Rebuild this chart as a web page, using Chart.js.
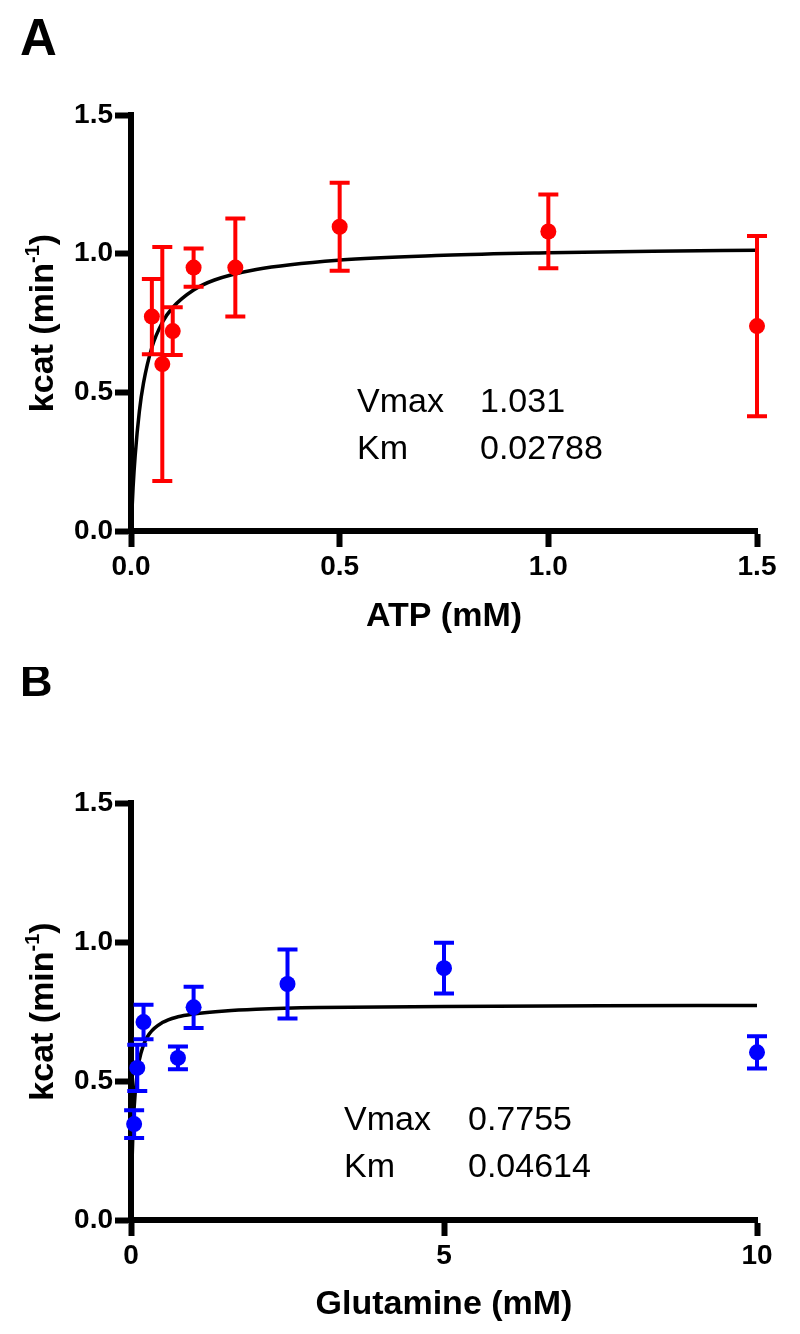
<!DOCTYPE html>
<html>
<head>
<meta charset="utf-8">
<script src="https://cdn.jsdelivr.net/npm/chart.js@4"></script>
<style>
  html, body { margin: 0; padding: 0; background: #fff; }
  canvas { display: block; }
</style>
</head>
<body>
<canvas id="chartA" width="800" height="667"></canvas>
<canvas id="chartB" width="800" height="667"></canvas>
<script>
// ============== Data ==============
// Panel A - ATP
const atpConc = [0.05, 0.075, 0.1, 0.15, 0.25, 0.5, 1.0, 1.5];
const atpKcat = [0.773, 0.602, 0.721, 0.950, 0.950, 1.097, 1.080, 0.739];
const atpSd = [0.136, 0.422, 0.086, 0.069, 0.177, 0.159, 0.133, 0.325];
const atpFitX = [0, 0.005, 0.01, 0.02, 0.03, 0.05, 0.075, 0.1, 0.15, 0.2, 0.3, 0.5, 0.75, 1.0, 1.25, 1.5];
const atpFitY = [0, 0.157, 0.272, 0.431, 0.534, 0.662, 0.752, 0.806, 0.869, 0.905, 0.943, 0.977, 0.994, 1.003, 1.009, 1.012];
const atpXTicks = [0, 0.5, 1.0, 1.5];
const atpParams = ["Vmax", "Km"];
const atpParamValues = ["1.031", "0.02788"];

// Panel B - Glutamine
const glnConc = [0.05, 0.1, 0.2, 0.75, 1.0, 2.5, 5, 10];
const glnKcat = [0.345, 0.547, 0.712, 0.583, 0.765, 0.849, 0.906, 0.603];
const glnSd = [0.050, 0.083, 0.062, 0.041, 0.074, 0.124, 0.091, 0.058];
const glnFitX = [0, 0.01, 0.02, 0.05, 0.1, 0.2, 0.3, 0.5, 0.75, 1, 1.5, 2, 3, 5, 7.5, 10];
const glnFitY = [0, 0.138, 0.235, 0.403, 0.531, 0.630, 0.672, 0.710, 0.731, 0.741, 0.752, 0.758, 0.764, 0.768, 0.771, 0.772];
const glnXTicks = [0, 5, 10];
const glnParams = ["Vmax", "Km"];
const glnParamValues = ["0.7755", "0.04614"];

const kcatTicks = [0, 0.5, 1.0, 1.5];

const FONT = "'Liberation Sans', Arial, sans-serif";

function toPoints(xs, ys) {
  return xs.map((x, i) => ({ x: x, y: ys[i] }));
}

// ============== Error bars ==============
const errorBarPlugin = {
  id: "errorBars",
  afterDatasetsDraw(chart) {
    const ctx = chart.ctx;
    const yScale = chart.scales.y;
    chart.data.datasets.forEach((ds, i) => {
      if (!ds.sd) return;
      const meta = chart.getDatasetMeta(i);
      ctx.save();
      ctx.strokeStyle = ds.backgroundColor;
      ctx.lineWidth = 4;
      meta.data.forEach((pt, j) => {
        const v = ds.data[j].y;
        const top = yScale.getPixelForValue(v + ds.sd[j]);
        const bot = yScale.getPixelForValue(v - ds.sd[j]);
        ctx.beginPath();
        ctx.moveTo(pt.x, top);
        ctx.lineTo(pt.x, bot);
        ctx.moveTo(pt.x - 10, top);
        ctx.lineTo(pt.x + 10, top);
        ctx.moveTo(pt.x - 10, bot);
        ctx.lineTo(pt.x + 10, bot);
        ctx.stroke();
      });
      ctx.restore();
    });
  },
};

// ============== Texts: panel letter, y title, fit params ==============
const panelTextPlugin = {
  id: "panelText",
  afterDraw(chart, args, opts) {
    const ctx = chart.ctx;
    const area = chart.chartArea;
    ctx.save();
    ctx.fillStyle = "#000";
    ctx.textBaseline = "alphabetic";
    ctx.textAlign = "left";

    ctx.font = "bold " + opts.letterSize + "px " + FONT;
    ctx.fillText(opts.letter, opts.letterX, opts.letterY);

    // y title with superscript
    const cy = (area.top + area.bottom) / 2;
    const main1 = "kcat (min";
    const sup = "-1";
    const main2 = ")";
    ctx.font = "bold 34px " + FONT;
    const w1 = ctx.measureText(main1).width;
    const w3 = ctx.measureText(main2).width;
    ctx.font = "bold 20px " + FONT;
    const w2 = ctx.measureText(sup).width;
    const total = w1 + w2 + w3;
    ctx.translate(53, cy);
    ctx.rotate(-Math.PI / 2);
    let x0 = -total / 2;
    ctx.font = "bold 34px " + FONT;
    ctx.fillText(main1, x0, 0);
    ctx.font = "bold 20px " + FONT;
    ctx.fillText(sup, x0 + w1, -14);
    ctx.font = "bold 34px " + FONT;
    ctx.fillText(main2, x0 + w1 + w2, 0);
    ctx.setTransform(1, 0, 0, 1, 0, 0);

    // fit parameters
    ctx.font = "34px " + FONT;
    opts.labels.forEach((lab, i) => {
      ctx.fillText(lab, opts.labelX, opts.baseY + i * 47);
      ctx.fillText(opts.values[i], opts.valueX, opts.baseY + i * 47);
    });
    ctx.restore();
  },
};

function get_chart(canvasId, cfg) {
  const ctx = document.getElementById(canvasId).getContext("2d");
  return new Chart(ctx, {
    type: "scatter",
    data: {
      datasets: [
        {
          label: "Fit",
          data: toPoints(cfg.fitX, cfg.fitY),
          showLine: true,
          borderColor: "#000",
          borderWidth: 3.5,
          pointRadius: 0,
          cubicInterpolationMode: "monotone",
          fill: false,
          clip: false,
          order: 2,
        },
        {
          label: "kcat",
          data: toPoints(cfg.conc, cfg.kcat),
          sd: cfg.sd,
          backgroundColor: cfg.color,
          borderWidth: 0,
          pointRadius: 8,
          clip: false,
          order: 1,
        },
      ],
    },
    options: {
      responsive: false,
      animation: false,
      devicePixelRatio: 1,
      layout: { padding: { top: cfg.padTop, right: 43, bottom: 0, left: 0 } },
      plugins: {
        legend: { display: false },
        tooltip: { enabled: false },
        panelText: cfg.text,
      },
      scales: {
        x: {
          type: "linear",
          min: cfg.xTicks[0],
          max: cfg.xTicks[cfg.xTicks.length - 1],
          afterBuildTicks: (s) => { s.ticks = cfg.xTicks.map((v) => ({ value: v })); },
          afterFit: (s) => { s.height = cfg.xHeight; },
          grid: { drawOnChartArea: false, tickLength: 16, tickWidth: 6, tickColor: "#000" },
          border: { display: true, color: "#000", width: 6 },
          ticks: {
            padding: 3,
            color: "#000",
            font: { family: FONT, size: 28, weight: "bold" },
            callback: cfg.xFormat,
          },
          title: {
            display: true,
            text: cfg.xTitle,
            color: "#000",
            font: { family: FONT, size: 34, weight: "bold" },
            padding: { top: 0, bottom: cfg.xTitlePad },
          },
        },
        y: {
          type: "linear",
          min: 0,
          max: 1.5,
          afterBuildTicks: (s) => { s.ticks = kcatTicks.map((v) => ({ value: v })); },
          afterFit: (s) => { s.width = 131; },
          grid: { drawOnChartArea: false, tickLength: 16, tickWidth: 6, tickColor: "#000" },
          border: { display: true, color: "#000", width: 6 },
          ticks: {
            padding: 2,
            color: "#000",
            font: { family: FONT, size: 28, weight: "bold" },
            callback: (v) => Number(v).toFixed(1),
          },
        },
      },
    },
    plugins: [errorBarPlugin, panelTextPlugin],
  });
}

get_chart("chartA", {
  conc: atpConc, kcat: atpKcat, sd: atpSd, fitX: atpFitX, fitY: atpFitY,
  color: "#ff0000", xTicks: atpXTicks, xTitle: "ATP (mM)",
  xFormat: (v) => Number(v).toFixed(1),
  padTop: 115, xHeight: 136, xTitlePad: 30,
  text: {
    letter: "A", letterSize: 51, letterX: 20, letterY: 55,
    labels: atpParams, values: atpParamValues,
    labelX: 357, valueX: 480, baseY: 412,
  },
});

get_chart("chartB", {
  conc: glnConc, kcat: glnKcat, sd: glnSd, fitX: glnFitX, fitY: glnFitY,
  color: "#0000ff", xTicks: glnXTicks, xTitle: "Glutamine (mM)",
  xFormat: (v) => String(v),
  padTop: 136, xHeight: 114, xTitlePad: 9,
  text: {
    letter: "B", letterSize: 45, letterX: 20, letterY: 29,
    labels: glnParams, values: glnParamValues,
    labelX: 344, valueX: 468, baseY: 463,
  },
});
</script>
</body>
</html>
